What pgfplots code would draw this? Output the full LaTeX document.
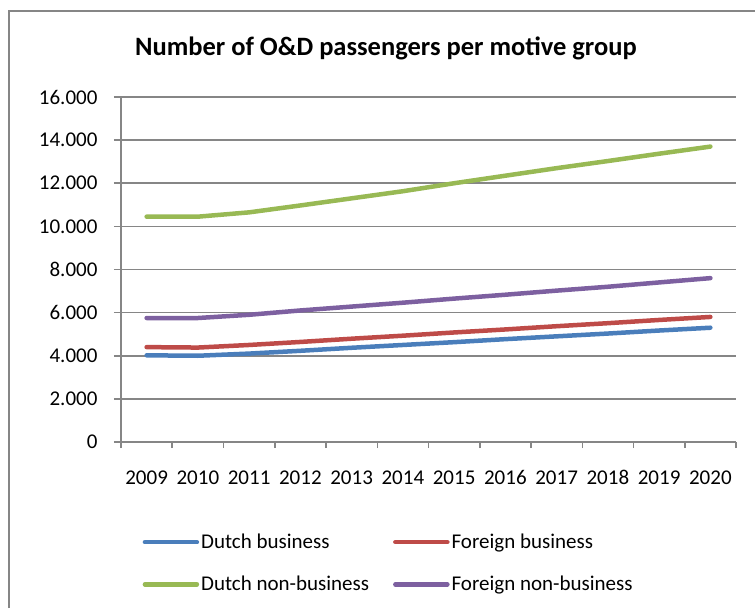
\documentclass[border=0pt]{standalone}
\usepackage{fontspec}
\setmainfont{Carlito}
\usepackage{pgfplots}
\pgfplotsset{compat=1.18}
\definecolor{sblue}{HTML}{4A7EBB}
\definecolor{sred}{HTML}{BE4B48}
\definecolor{sgreen}{HTML}{98B954}
\definecolor{spurple}{HTML}{7D60A0}
\definecolor{axgray}{HTML}{868686}
\begin{document}
\begin{tikzpicture}[x=1pt,y=1pt]
\useasboundingbox (-121,-166) rectangle (634,442);
\draw[axgray, line width=1.5pt] (-112,-166) -- (-112,431) -- (634,431);
\node[font=\fontsize{26.5}{30}\selectfont\bfseries] at (265,394) {Number of O\&D passengers per motive group};
\begin{axis}[
  at={(0,0)}, anchor=south west,
  scale only axis, width=615pt, height=345pt,
  xmin=-0.5, xmax=11.5, ymin=0, ymax=16000,
  axis x line=bottom, axis y line=left,
  axis line style={-, axgray, line width=1.5pt},
  xtick={0,...,11},
  xticklabels={2009,2010,2011,2012,2013,2014,2015,2016,2017,2018,2019,2020},
  major x tick style={draw=none},
  minor xtick={-0.5,0.5,...,11.5},
  minor tick length=6pt,
  minor x tick style={axgray, line width=1.5pt},
  ytick={0,2000,...,16000},
  major tick length=7pt,
  y tick style={axgray, line width=1.5pt},
  tick align=outside,
  ymajorgrids, grid style={axgray, line width=1.5pt},
  /pgf/number format/.cd, 1000 sep={.}, assume math mode=true, /pgfplots/.cd,
  scaled y ticks=false,
  tick label style={font=\fontsize{21}{25}\selectfont},
  xticklabel style={anchor=base, yshift=-35pt},
  yticklabel style={xshift=-13pt},
  every axis plot/.append style={line width=4.5pt, line cap=round, line join=round},
  legend columns=2,
  legend cell align=left,
  legend style={draw=none, fill=none, at={(0.03,-0.255)}, anchor=north west,
    font=\fontsize{21}{25}\selectfont,
    /tikz/every even column/.append style={column sep=22pt},
    row sep=22pt},
  legend image code/.code={\draw[#1, line width=4.5pt, line cap=round] (0pt,0pt) -- (52pt,0pt);},
]
\addplot[sblue] coordinates {(0,4020) (1,4000) (2,4100) (3,4230) (4,4370) (5,4500) (6,4630) (7,4770) (8,4900) (9,5030) (10,5170) (11,5300)};
\addplot[sred] coordinates {(0,4400) (1,4380) (2,4500) (3,4640) (4,4790) (5,4930) (6,5080) (7,5220) (8,5370) (9,5510) (10,5660) (11,5800)};
\addplot[sgreen] coordinates {(0,10450) (1,10450) (2,10650) (3,10970) (4,11300) (5,11630) (6,12000) (7,12350) (8,12700) (9,13030) (10,13370) (11,13700)};
\addplot[spurple] coordinates {(0,5750) (1,5750) (2,5900) (3,6100) (4,6280) (5,6460) (6,6650) (7,6830) (8,7020) (9,7200) (10,7400) (11,7600)};
\legend{Dutch business, Foreign business, Dutch non-business, Foreign non-business}
\end{axis}
\end{tikzpicture}
\end{document}
